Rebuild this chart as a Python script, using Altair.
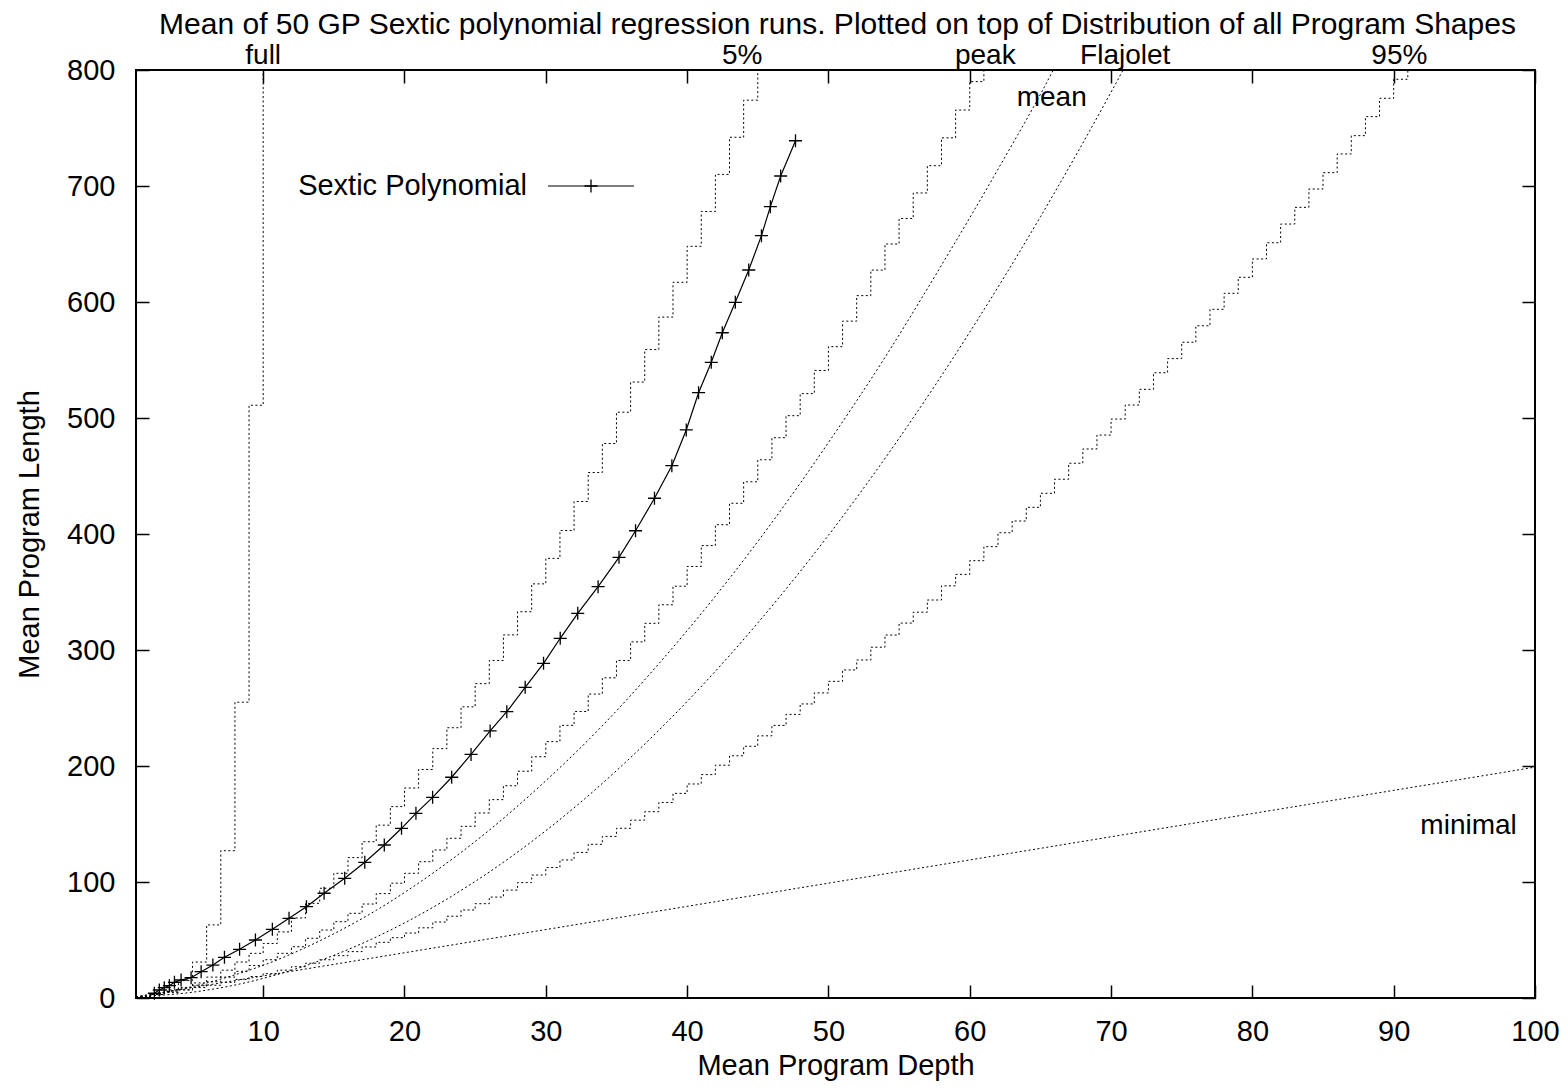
import altair as alt
import pandas as pd

FONT = "Liberation Sans"
FS = 29

title_lines = ["Mean of 50 GP Sextic polynomial regression runs. Plotted on top of Distribution of all Program Shapes"]

# ---- data ----
full_depth = [1, 2, 3, 4, 5, 6, 7, 8, 9, 10]
full_length = [1, 3, 7, 15, 31, 63, 127, 255, 511, 1023]

pct5_depth = list(range(1, 46))
pct5_length = [1, 3, 6, 9, 13, 18, 24, 31, 38.5, 47,
               57, 69, 81.6, 94.6, 107.5, 121, 134.7, 149, 165, 181,
               197, 215, 233, 251, 271, 291, 313, 333, 357, 379,
               403, 428, 453, 478, 505, 531, 559, 587, 617, 648,
               678, 710, 742, 774, 806]

peak_depth = list(range(1, 62))
peak_length = [1, 3, 5, 7, 11, 14, 18, 23, 28, 33,
               38.5, 44.2, 51.5, 58.6, 65.8, 73, 81, 90, 99, 107.5,
               117.5, 127.6, 137.7, 148, 159.5, 171, 183, 195.5, 208, 221,
               235, 247, 262, 276, 291, 307, 323, 339, 355, 372,
               390, 408, 426.5, 445, 464, 483, 502, 521, 541, 561.5,
               583.5, 605.5, 627.5, 650, 672, 694, 717.5, 741.5, 765.5, 790,
               815]

pct95_depth = list(range(1, 92))
pct95_length = [1, 3, 5, 7, 9, 11, 13.5, 16, 18.5, 21,
                24, 27, 30, 33, 36.5, 40, 44, 48, 52, 56,
                60.5, 65.5, 70.5, 75.9, 81.3, 87, 93, 99.5, 106, 112.5,
                119, 125.5, 132.5, 139.3, 146.3, 153.3, 160.6, 168.5, 176.4, 184.5,
                192.6, 200.7, 208.8, 217, 226, 235, 244.5, 253.5, 263, 273,
                282.8, 291.4, 302.4, 312.9, 323.2, 332.6, 343.1, 355.3, 365.2, 377,
                389.1, 401.1, 411.2, 423, 435.1, 447.2, 461, 473.3, 485.3, 499.1,
                511.2, 524.7, 539, 551.2, 565.3, 579.5, 593.7, 607.5, 621.3, 637.1,
                651.1, 667.2, 681.6, 697.4, 711.5, 727.6, 743.4, 759.8, 775.6, 792,
                808]

mean_depth = [1, 2, 3, 4, 5, 6, 8, 10, 14, 18, 22, 26, 30, 34, 38, 42, 46, 50, 54, 58, 62, 66, 67]
mean_length = [1, 3, 5, 7.4, 9.9, 12.9, 20, 28.2, 49.3, 75.6, 107.6, 144.7, 187.3, 234.7,
               288.2, 346.4, 409.9, 478.8, 552.2, 631.7, 714.5, 802.3, 827]

flaj_depth = [1, 5, 10, 15, 20, 25, 30, 35, 40, 45, 50, 55, 60, 65, 70, 72]
flaj_length = [1.2, 5.0, 16.9, 36.8, 64.7, 100.5, 144.2, 196.0, 255.6, 323.3, 398.9,
               482.5, 574.0, 673.4, 780.9, 826.1]

minimal_depth = [1, 100]
minimal_length = [1, 199]

sextic_depth = [2.30, 2.65, 3.00, 3.36, 3.72, 4.19, 4.90, 5.61, 6.44, 7.26,
                8.33, 9.45, 10.65, 11.83, 13.06, 14.31, 15.77, 17.19, 18.57, 19.79,
                20.81, 21.99, 23.34, 24.71, 26.06, 27.24, 28.54, 29.84, 31.02, 32.26,
                33.70, 35.18, 36.35, 37.69, 38.92, 39.94, 40.81, 41.71, 42.49, 43.41,
                44.36, 45.26, 45.89, 46.62, 47.67]
sextic_length = [4.1, 6.9, 8.9, 10.6, 13.5, 15.5, 17.5, 22.7, 28.4, 35.1,
                 42, 50, 59.2, 68.7, 78.7, 90.3, 103.2, 117, 131.9, 146.3,
                 159.2, 173, 190.3, 210, 230.2, 246.8, 267.8, 288.5, 310.1, 331.6,
                 354.6, 379.9, 402.8, 430.8, 458.9, 489.7, 521.8, 548, 573.5, 599.7,
                 627.6, 657.2, 682.2, 708.6, 739]

curve_names = ["full", "5%", "peak", "Flajolet", "95%", "mean", "minimal"]
curve_name_depth = [10.0, 43.9, 61.1, 71.0, 90.4, 65.8, 95.3]
curve_name_length = [812.5, 812.5, 812.5, 812.5, 812.5, 776, 148]

legend_names = ["Sextic Polynomial"]

x_ticks = [10, 20, 30, 40, 50, 60, 70, 80, 90, 100]
y_ticks = [0, 100, 200, 300, 400, 500, 600, 700, 800]

# ---- chart ----
W, H = 1399, 928
xs = alt.Scale(domain=[1, 100], nice=False, zero=False)
ys = alt.Scale(domain=[0, 800], nice=False, zero=False)


def frame(d, l):
    return pd.DataFrame({"depth": d, "length": l})


common = dict(tickSize=13, offset=-13, domain=False, grid=False, tickColor="black",
              tickWidth=1.5, labelFont=FONT, labelFontSize=FS, labelColor="black",
              labelFlush=False, labelOverlap=False,
              titleFont=FONT, titleFontSize=FS, titleFontWeight="normal", titleColor="black")

x_bottom = alt.Axis(orient="bottom", values=x_ticks, labelPadding=19, format="d",
                    title="Mean Program Depth", titlePadding=5, **common)
x_top = alt.Axis(orient="top", values=x_ticks, labels=False, title=None, **common)
y_left = alt.Axis(orient="left", values=y_ticks, labelPadding=21, format="d",
                  title="Mean Program Length", titlePadding=22, **common)
y_right = alt.Axis(orient="right", values=y_ticks, labels=False, title=None, **common)


def xy(chart, xa=None, ya=None):
    return chart.encode(
        x=alt.X("depth:Q", scale=xs, axis=xa),
        y=alt.Y("length:Q", scale=ys, axis=ya),
    )


dotted = dict(color="black", strokeWidth=1, strokeDash=[2, 2.5], clip=True)

minimal_layer = xy(alt.Chart(frame(minimal_depth, minimal_length)).mark_line(**dotted),
                   x_bottom, y_left)
flaj_layer = xy(alt.Chart(frame(flaj_depth, flaj_length)).mark_line(interpolate="monotone", **dotted),
                x_top, y_right)
mean_layer = xy(alt.Chart(frame(mean_depth, mean_length)).mark_line(interpolate="monotone", **dotted))
full_layer = xy(alt.Chart(frame(full_depth, full_length)).mark_line(interpolate="step-after", **dotted))
p5_layer = xy(alt.Chart(frame(pct5_depth, pct5_length)).mark_line(interpolate="step-after", **dotted))
peak_layer = xy(alt.Chart(frame(peak_depth, peak_length)).mark_line(interpolate="step-after", **dotted))
p95_layer = xy(alt.Chart(frame(pct95_depth, pct95_length)).mark_line(interpolate="step-after", **dotted))

PLUS = "M-1,0L1,0M0,-1L0,1"
sextic_df = frame(sextic_depth, sextic_length)
sextic_line = xy(alt.Chart(sextic_df).mark_line(color="black", strokeWidth=1.2, clip=True))
sextic_pts = xy(alt.Chart(sextic_df).mark_point(shape=PLUS, size=170, color="black",
                                                 strokeWidth=1.3, filled=False, opacity=1))

labels_df = pd.DataFrame({"depth": curve_name_depth, "length": curve_name_length, "name": curve_names})
labels_layer = xy(alt.Chart(labels_df).mark_text(font=FONT, fontSize=28, color="black",
                                                 align="center", baseline="middle")).encode(text="name:N")

legend_df = pd.DataFrame({"name": legend_names})
legend_text = alt.Chart(legend_df).mark_text(font=FONT, fontSize=FS, color="black",
                                             align="right", baseline="middle").encode(
    x=alt.value(391), y=alt.value(116), text="name:N")
legend_rule = alt.Chart(legend_df).mark_rule(color="black", strokeWidth=1.2).encode(
    x=alt.value(412), x2=alt.value(498), y=alt.value(116))
legend_pt = alt.Chart(legend_df).mark_point(shape=PLUS, size=170, color="black",
                                            strokeWidth=1.3, filled=False, opacity=1).encode(
    x=alt.value(455), y=alt.value(116))

title_df = pd.DataFrame({"title": title_lines})
title_layer = alt.Chart(title_df).mark_text(font=FONT, fontSize=30, color="black",
                                            align="center", baseline="alphabetic").encode(
    x=alt.value(W / 2 + 2), y=alt.value(-36), text="title:N")

chart = alt.layer(
    minimal_layer, flaj_layer, mean_layer, full_layer, p5_layer, peak_layer, p95_layer,
    sextic_line, sextic_pts, labels_layer, legend_text, legend_rule, legend_pt, title_layer,
).resolve_axis(
    x="independent", y="independent"
).properties(
    width=W,
    height=H,
    autosize=alt.AutoSizeParams(type="none"),
    padding={"left": 128, "top": 62, "right": 25, "bottom": 85},
).configure(
    font=FONT
).configure_view(
    stroke="black", strokeWidth=2
)

chart.save("out.html", embed_options={"renderer": "svg", "actions": False})
